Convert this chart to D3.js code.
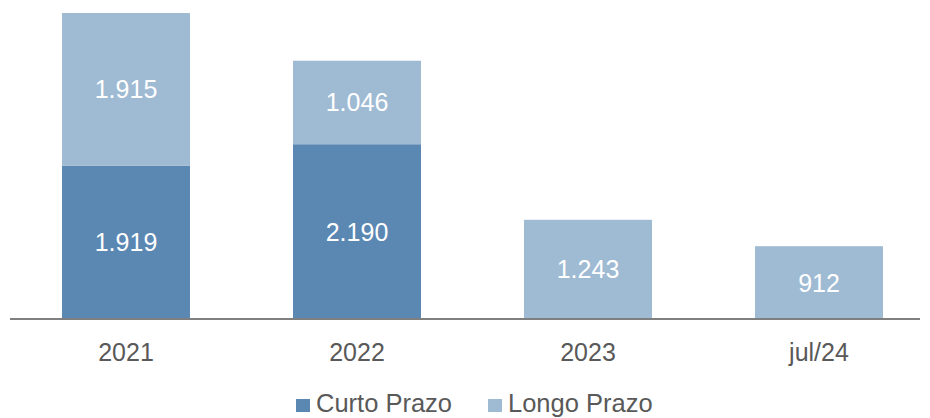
<!DOCTYPE html>
<html>
<head>
<meta charset="utf-8">
<script src="https://cdn.jsdelivr.net/npm/d3@7"></script>
<style>
  body { margin: 0; background: #fff; }
  text { font-family: "Liberation Sans", Arial, sans-serif; }
</style>
</head>
<body>
<svg width="930" height="418"></svg>
<script>
// data
const categories = ['2021', '2022', '2023', 'jul/24'];
const curtoPrazo = [1919, 2190, 0, 0];
const longoPrazo = [1915, 1046, 1243, 912];
const seriesNames = ['Curto Prazo', 'Longo Prazo'];
const colors = ['#5b87b3', '#9fbad3'];

const fmt = v => d3.format(',')(v).replace(/,/g, '.');

const rows = categories.map((c, i) => ({ cat: c, curto: curtoPrazo[i], longo: longoPrazo[i] }));
const stack = d3.stack().keys(['curto', 'longo'])(rows);

const svg = d3.select('svg');

const x = d3.scaleBand()
    .domain(categories)
    .range([10.5, 934.5])
    .paddingInner(0.446)
    .paddingOuter(0.223);

const y = d3.scaleLinear()
    .domain([0, 3834])
    .range([319, 13]);

const layers = svg.selectAll('.layer')
    .data(stack)
    .enter()
    .append('g')
    .attr('fill', (d, i) => colors[i]);

layers.selectAll('rect')
    .data(d => d.filter(s => s[1] - s[0] > 0))
    .enter()
    .append('rect')
    .attr('x', d => x(d.data.cat))
    .attr('width', x.bandwidth())
    .attr('y', d => y(d[1]))
    .attr('height', d => y(d[0]) - y(d[1]));

layers.selectAll('text')
    .data(d => d.filter(s => s[1] - s[0] > 0))
    .enter()
    .append('text')
    .attr('x', d => x(d.data.cat) + x.bandwidth() / 2)
    .attr('y', d => (y(d[0]) + y(d[1])) / 2)
    .attr('dy', '0.36em')
    .attr('text-anchor', 'middle')
    .attr('fill', '#fff')
    .style('font-size', '25px')
    .text(d => fmt(d[1] - d[0]));

// baseline
svg.append('line')
    .attr('x1', 10).attr('x2', 920)
    .attr('y1', y(0)).attr('y2', y(0))
    .attr('stroke', '#7f7f7f')
    .attr('stroke-width', 2);

// category labels
svg.selectAll('.cat')
    .data(categories)
    .enter()
    .append('text')
    .attr('x', d => x(d) + x.bandwidth() / 2)
    .attr('y', 361)
    .attr('text-anchor', 'middle')
    .attr('fill', '#595959')
    .style('font-size', '25px')
    .text(d => d);

// legend
const legendX = [296, 488];
const legend = svg.selectAll('.leg')
    .data(seriesNames)
    .enter()
    .append('g')
    .attr('transform', (d, i) => `translate(${legendX[i]},399)`);

legend.append('rect')
    .attr('width', 14).attr('height', 13)
    .attr('fill', (d, i) => colors[i]);

legend.append('text')
    .attr('x', 20)
    .attr('y', 13)
    .attr('fill', '#595959')
    .style('font-size', '25.5px')
    .text(d => d);
</script>
</body>
</html>
